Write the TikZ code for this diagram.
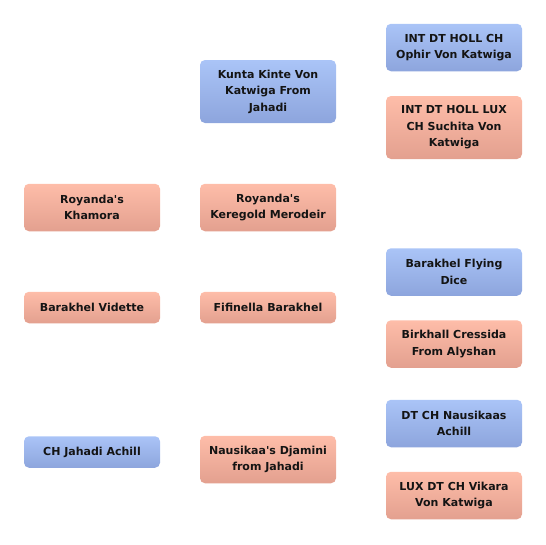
\documentclass[tikz,border=0pt]{standalone}
\usepackage{fontspec}
\setmainfont{DejaVu Sans}
\usepackage{tikz}
\usepackage{xcolor}
\usetikzlibrary{positioning}

\definecolor{sireTop}{HTML}{AAC4F7}
\definecolor{sireBot}{HTML}{8DA5DD}
\definecolor{damTop}{HTML}{FEBDA9}
\definecolor{damBot}{HTML}{E3A08F}
\definecolor{inkcol}{HTML}{141414}

\begin{document}
\begin{tikzpicture}[
    x=1pt,y=-1pt,
    dog/.style={rectangle,rounded corners=5pt,minimum width=136pt,inner sep=0pt,
        align=center,text=inkcol,font=\bfseries\fontsize{11}{16.5}\selectfont},
    sire/.style={dog,top color=sireTop,bottom color=sireBot},
    dam/.style={dog,top color=damTop,bottom color=damBot},
    oneline/.style={minimum height=31.5pt},
    twoline/.style={minimum height=47.5pt},
    threeline/.style={minimum height=63pt}
]
\useasboundingbox (0,0) rectangle (546,544);
% generation 1
\node[dam,twoline] (khamora) at (92,207.5) {Royanda\textquotesingle s\\Khamora};
\node[dam,oneline] (vidette) at (92,307.5) {Barakhel Vidette};
\node[sire,oneline] (jahadi) at (92,452) {CH Jahadi Achill};
% generation 2
\node[sire,threeline] (kunta) at (268,91.5) {Kunta Kinte Von\\Katwiga From\\Jahadi};
\node[dam,twoline] (keregold) at (268,207.5) {Royanda\textquotesingle s\\Keregold Merodeir};
\node[dam,oneline] (fifinella) at (268,307.5) {Fifinella Barakhel};
\node[dam,twoline] (djamini) at (268,459.5) {Nausikaa\textquotesingle s Djamini\\from Jahadi};
% generation 3
\node[sire,twoline] (ophir) at (454,47.5) {INT DT HOLL CH\\Ophir Von Katwiga};
\node[dam,threeline] (suchita) at (454,127.5) {INT DT HOLL LUX\\CH Suchita Von\\Katwiga};
\node[sire,twoline] (flying) at (454,272) {Barakhel Flying\\Dice};
\node[dam,twoline] (cressida) at (454,344) {Birkhall Cressida\\From Alyshan};
\node[sire,twoline] (nausikaas) at (454,423.5) {DT CH Nausikaas\\Achill};
\node[dam,twoline] (vikara) at (454,495.5) {LUX DT CH Vikara\\Von Katwiga};
\end{tikzpicture}
\end{document}
